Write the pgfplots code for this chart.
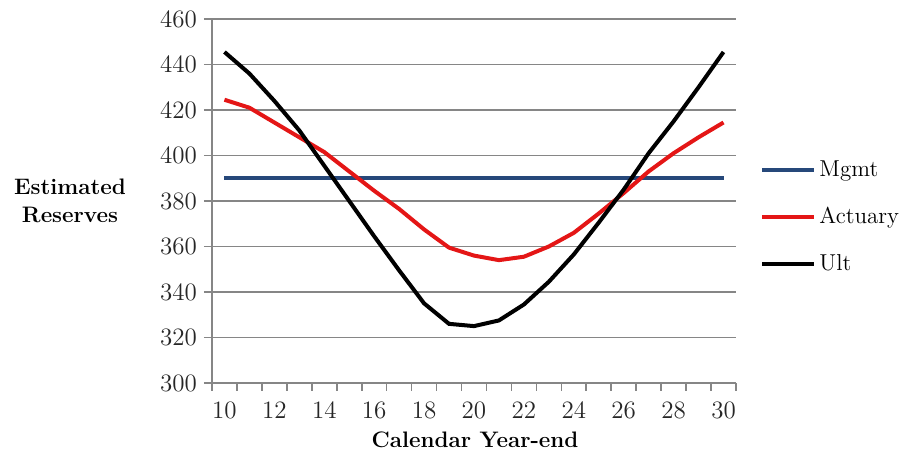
\documentclass[border=0pt]{standalone}
\usepackage{pgfplots}
\pgfplotsset{compat=1.18}
\definecolor{mgmt}{RGB}{38,72,122}
\definecolor{act}{RGB}{228,22,22}
\definecolor{gridc}{RGB}{134,134,134}
\begin{document}
\begin{tikzpicture}
\begin{axis}[
  scale only axis,
  width=262pt, height=182pt,
  xmin=9.5, xmax=30.5, ymin=300, ymax=460,
  axis x line*=bottom, axis y line*=left,
  axis line style={gridc, line width=0.8pt, -},
  xtick={10,12,...,30},
  major x tick style={draw=none},
  minor xtick={9.5,10.5,...,30.5},
  minor x tick style={gridc, line width=0.8pt},
  minor tick length=4pt,
  ytick={300,320,...,460},
  major y tick style={gridc, line width=0.8pt},
  major tick length=4pt,
  tick align=outside,
  ymajorgrids, major grid style={gridc, line width=0.8pt},
  /pgf/number format/assume math mode=true,
  tick label style={font=\fontsize{12.5}{15}\selectfont, text=black!85},
  xticklabel style={yshift=-2pt},
  label style={font=\fontsize{11.2}{14}\selectfont\bfseries},
  xlabel={Calendar Year-end},
  xlabel style={at={(axis description cs:0.502,-0.157)}, anchor=center},
  ylabel={Estimated\\Reserves},
  ylabel style={rotate=-90, align=center, at={(axis description cs:-0.271,0.50)}, anchor=center},
  legend style={draw=none, fill=none, at={(axis description cs:1.046,0.455)}, anchor=west,
    font=\fontsize{11.5}{14}\selectfont, row sep=11pt, inner sep=0pt,
    nodes={inner sep=1.5pt}},
  legend cell align=left,
  legend image code/.code={\draw[#1] (0pt,0pt) -- (26pt,0pt);},
]
\addplot[mgmt, line width=2pt] table {
x y
10 390
11 390
12 390
13 390
14 390
15 390
16 390
17 390
18 390
19 390
20 390
21 390
22 390
23 390
24 390
25 390
26 390
27 390
28 390
29 390
30 390
};
\addlegendentry{Mgmt}
\addplot[act, line width=2pt] table {
x y
10 424.5
11 421
12 414.5
13 408
14 401.5
15 393
16 384.5
17 376.5
18 367.5
19 359.5
20 356
21 354
22 355.5
23 360
24 366
25 374.5
26 383.5
27 393
28 401
29 408
30 414.5
};
\addlegendentry{Actuary}
\addplot[black, line width=2pt] table {
x y
10 445.5
11 436
12 424
13 411
14 395.5
15 380
16 364.5
17 349.5
18 335
19 326
20 325
21 327.5
22 334.5
23 344.5
24 356.5
25 370.5
26 385
27 401
28 415
29 430
30 445.5
};
\addlegendentry{Ult}
\end{axis}
\pgfresetboundingbox
\path (-106pt,-35.5pt) rectangle (344.5pt,191.5pt);
\end{tikzpicture}
\end{document}
